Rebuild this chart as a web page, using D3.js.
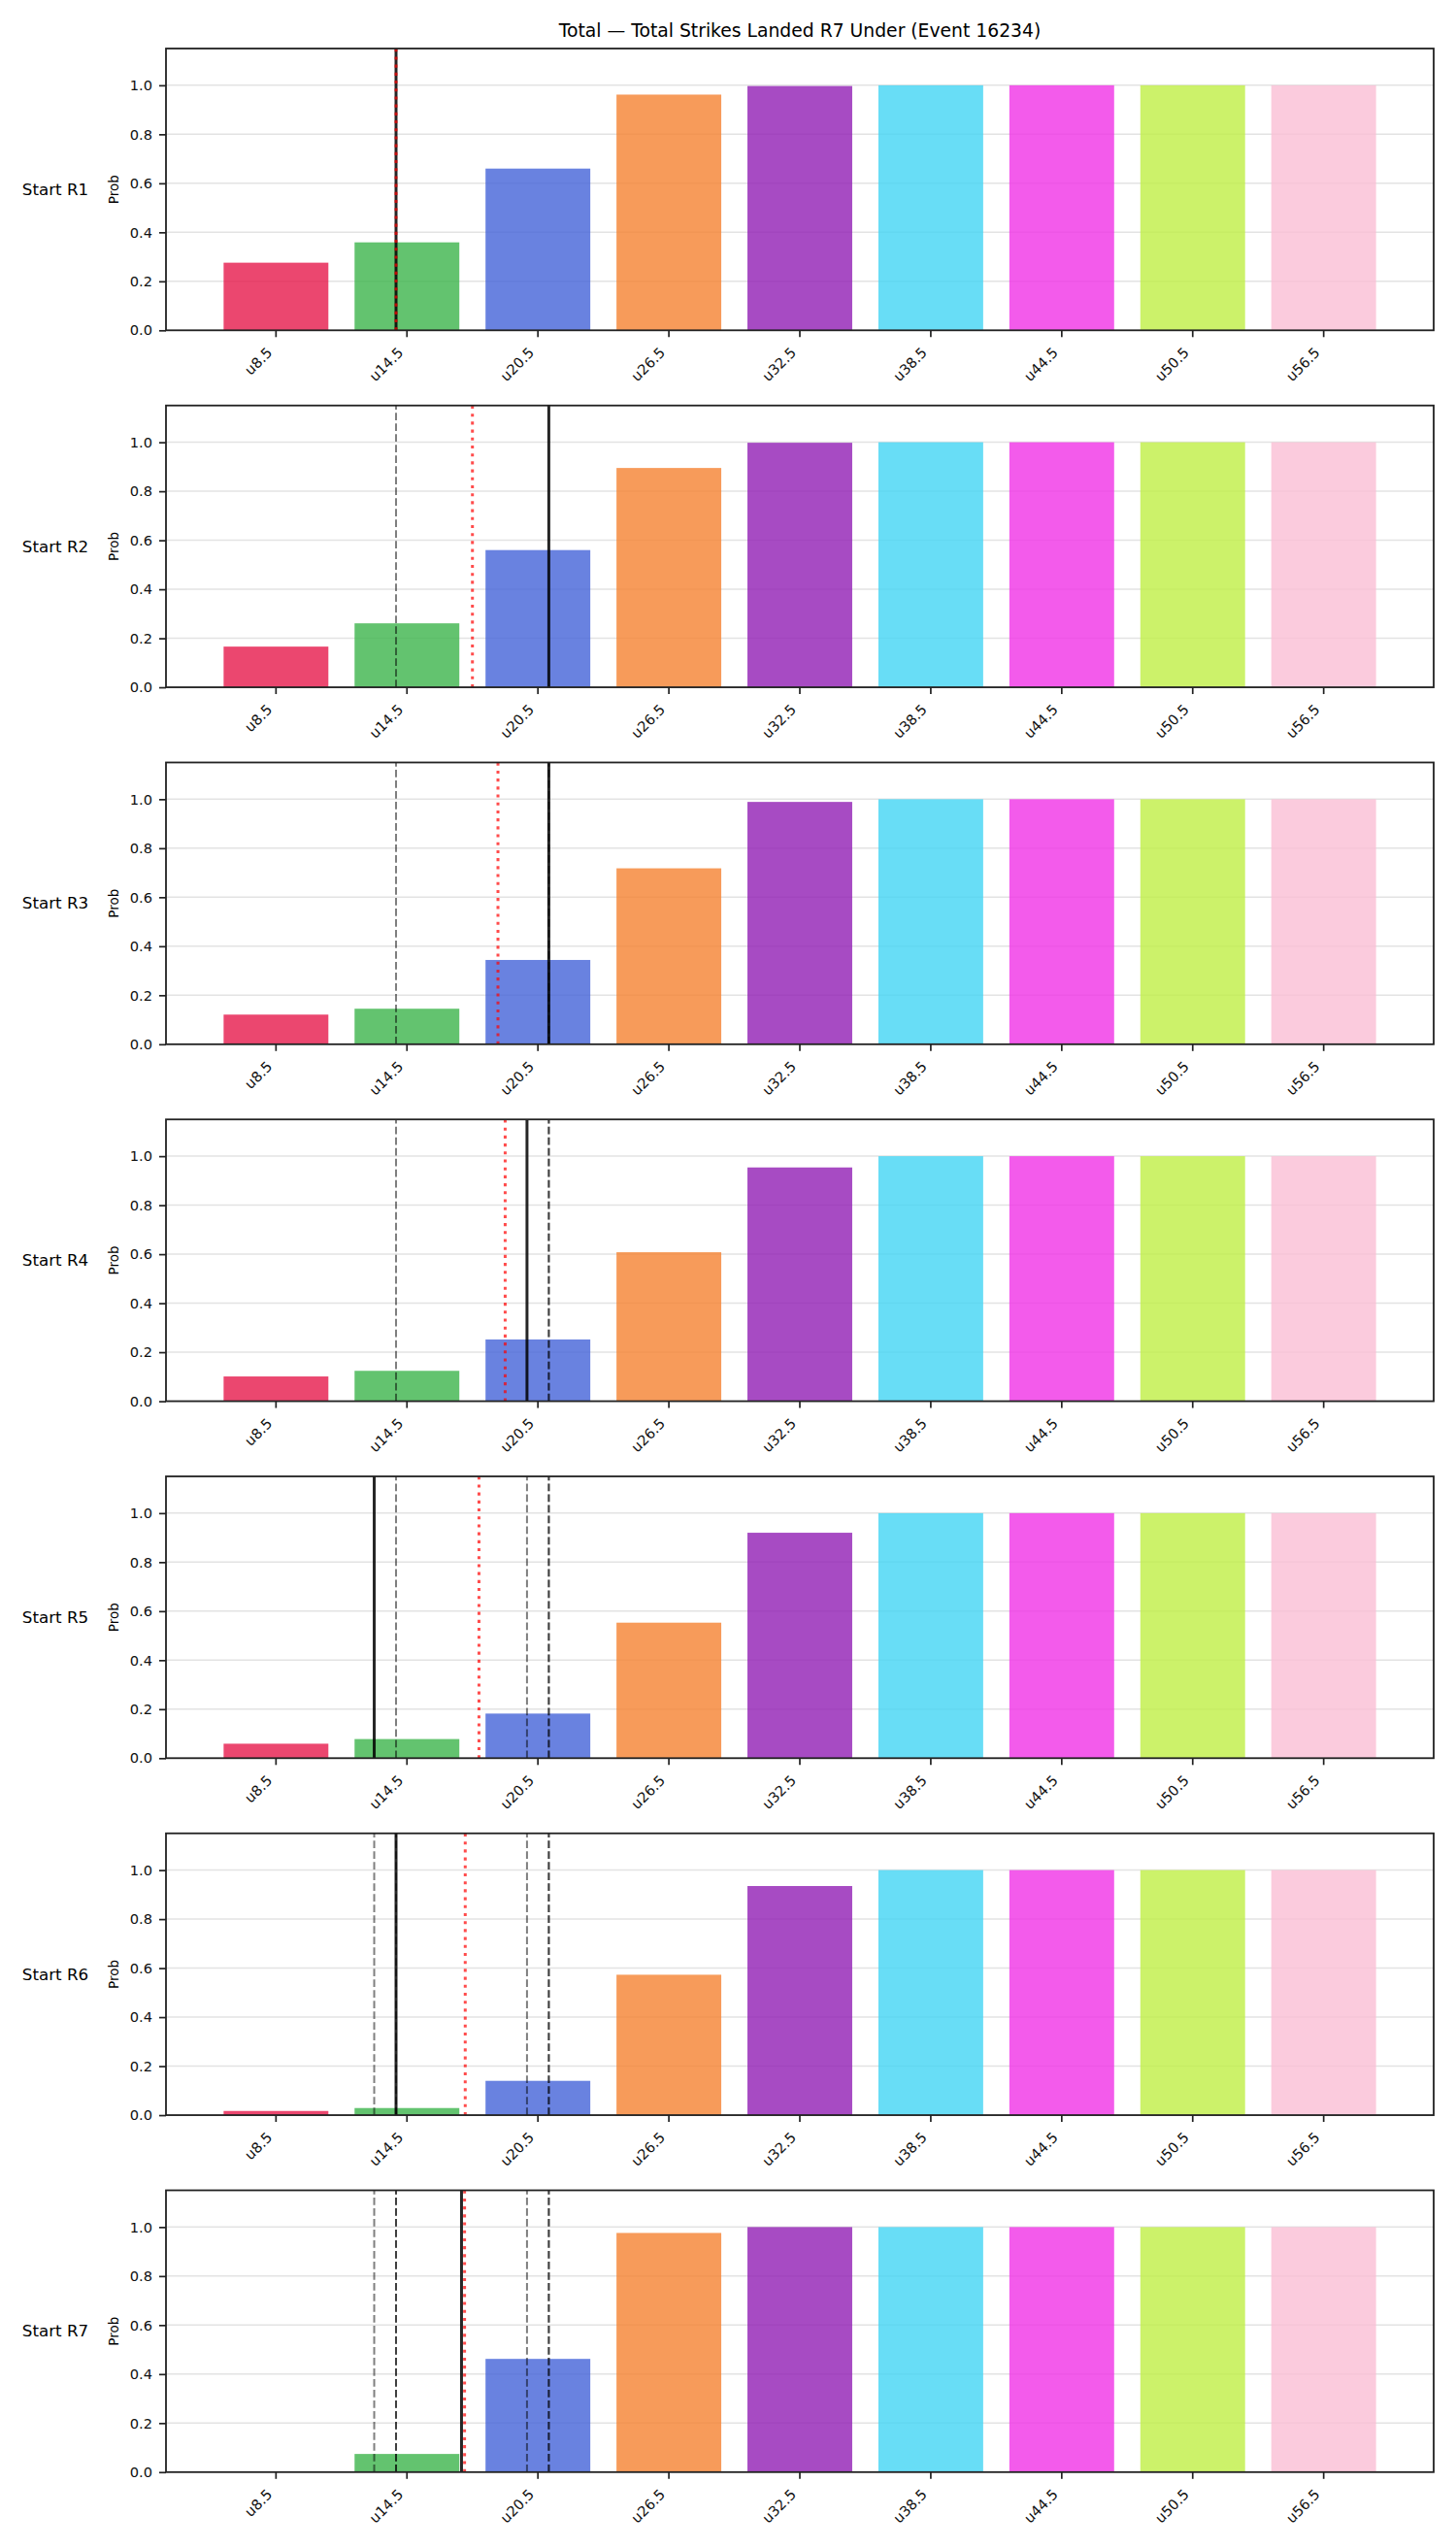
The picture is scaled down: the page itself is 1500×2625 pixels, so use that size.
<!DOCTYPE html>
<html>
<head>
<meta charset="utf-8">
<script src="https://cdn.jsdelivr.net/npm/d3@7"></script>
<style>
  html, body { margin: 0; padding: 0; background: #ffffff; }
  svg { display: block; font-family: "DejaVu Sans", sans-serif; }
</style>
</head>
<body>
<svg id="chart" width="1500" height="2625"></svg>
<script>
// ---------------- data ----------------
const title = "Total \u2014 Total Strikes Landed R7 Under (Event 16234)";
const categories = ["u8.5", "u14.5", "u20.5", "u26.5", "u32.5", "u38.5", "u44.5", "u50.5", "u56.5"];
const thresholds = [8.5, 14.5, 20.5, 26.5, 32.5, 38.5, 44.5, 50.5, 56.5];
const roundLabels = ["Start R1", "Start R2", "Start R3", "Start R4", "Start R5", "Start R6", "Start R7"];

const probR1 = [0.276, 0.359, 0.660, 0.962, 0.997, 1.0, 1.0, 1.0, 1.0];
const probR2 = [0.166, 0.261, 0.560, 0.895, 0.998, 1.0, 1.0, 1.0, 1.0];
const probR3 = [0.121, 0.145, 0.344, 0.718, 0.989, 1.0, 1.0, 1.0, 1.0];
const probR4 = [0.101, 0.124, 0.252, 0.608, 0.954, 1.0, 1.0, 1.0, 1.0];
const probR5 = [0.059, 0.078, 0.182, 0.553, 0.920, 1.0, 1.0, 1.0, 1.0];
const probR6 = [0.017, 0.029, 0.140, 0.573, 0.935, 1.0, 1.0, 1.0, 1.0];
const probR7 = [0.003, 0.074, 0.462, 0.976, 1.0, 1.0, 1.0, 1.0, 1.0];
const probs = [probR1, probR2, probR3, probR4, probR5, probR6, probR7];

// strikes landed per round (solid line = current round, dashed = earlier rounds)
const roundStrikes = [14, 21, 21, 20, 13, 14, 17];
// running average shown as red dotted line
const runningAvg = [14, 17.5, 18.67, 19, 17.8, 17.17, 17.14];

const barColors = ["#e6194b", "#3cb44b", "#4363d8", "#f58231", "#911eb4", "#42d4f4", "#f032e6", "#bfef45", "#fabed4"];
const yTicks = [0, 0.2, 0.4, 0.6, 0.8, 1.0];

// ---------------- layout ----------------
const left = 171, right = 1477;
const top0 = 50, panelStep = 367.75, panelH = 290.3;

const svg = d3.select("#chart");

svg.append("text")
  .attr("x", (left + right) / 2)
  .attr("y", 37.5)
  .attr("text-anchor", "middle")
  .attr("font-size", "18.75px")
  .attr("fill", "#000")
  .text(title);

const x = d3.scaleBand()
  .domain(categories)
  .range([left, right])
  .paddingInner(0.2)
  .paddingOuter(0.44);

// linear strike scale matching the band centers
const xs = d3.scaleLinear()
  .domain([thresholds[0], thresholds[thresholds.length - 1]])
  .range([x(categories[0]) + x.bandwidth() / 2, x(categories[categories.length - 1]) + x.bandwidth() / 2]);

probs.forEach((vals, i) => {
  const top = top0 + i * panelStep;
  const bottom = top + panelH;
  const y = d3.scaleLinear().domain([0, 1.15]).range([bottom, top]);
  const g = svg.append("g");

  // grid
  g.selectAll(".grid").data(yTicks).enter().append("line")
    .attr("x1", left).attr("x2", right)
    .attr("y1", d => y(d)).attr("y2", d => y(d))
    .attr("stroke", "#e3e3e3").attr("stroke-width", 1.5);

  // bars
  g.selectAll(".bar").data(vals).enter().append("rect")
    .attr("x", (d, j) => x(categories[j]))
    .attr("width", x.bandwidth())
    .attr("y", d => y(d))
    .attr("height", d => bottom - y(d))
    .attr("fill", (d, j) => barColors[j])
    .attr("fill-opacity", 0.8);

  // earlier rounds: dashed
  roundStrikes.slice(0, i).forEach(v => {
    g.append("line")
      .attr("x1", xs(v)).attr("x2", xs(v))
      .attr("y1", bottom).attr("y2", top)
      .attr("stroke", "#000").attr("stroke-opacity", 0.5)
      .attr("stroke-width", 2)
      .attr("stroke-dasharray", "7.7,3.3");
  });
  // current round: solid
  g.append("line")
    .attr("x1", xs(roundStrikes[i])).attr("x2", xs(roundStrikes[i]))
    .attr("y1", bottom).attr("y2", top)
    .attr("stroke", "#000").attr("stroke-opacity", 0.85)
    .attr("stroke-width", 3);
  // running average: red dotted
  g.append("line")
    .attr("x1", xs(runningAvg[i])).attr("x2", xs(runningAvg[i]))
    .attr("y1", bottom).attr("y2", top)
    .attr("stroke", "red").attr("stroke-opacity", 0.7)
    .attr("stroke-width", 3)
    .attr("stroke-dasharray", "3.1,5.1");

  // axes
  const yAxis = d3.axisLeft(y).tickValues(yTicks).tickFormat(d3.format(".1f")).tickSize(7).tickPadding(7);
  const ya = g.append("g").attr("transform", `translate(${left},0)`).call(yAxis);
  const xAxis = d3.axisBottom(x).tickSize(7).tickPadding(7);
  const xa = g.append("g").attr("transform", `translate(0,${bottom})`).call(xAxis);

  [ya, xa].forEach(a => {
    a.select(".domain").remove();
    a.selectAll(".tick line").attr("stroke", "#222").attr("stroke-width", 1.7);
    a.selectAll(".tick text").attr("font-size", "14.6px").attr("fill", "#111").attr("font-family", "DejaVu Sans");
  });
  xa.selectAll(".tick text")
    .attr("text-anchor", "end")
    .attr("dy", null)
    .attr("y", 0)
    .attr("transform", "translate(-3,24) rotate(-45)");

  // frame
  g.append("rect")
    .attr("x", left).attr("y", top)
    .attr("width", right - left).attr("height", panelH)
    .attr("fill", "none").attr("stroke", "#222").attr("stroke-width", 1.8);

  // labels
  g.append("text")
    .attr("x", 122).attr("y", (top + bottom) / 2)
    .attr("transform", `rotate(-90,122,${(top + bottom) / 2})`)
    .attr("text-anchor", "middle")
    .attr("font-size", "13.5px")
    .attr("fill", "#000")
    .text("Prob");
  g.append("text")
    .attr("x", 57).attr("y", (top + bottom) / 2)
    .attr("dy", "0.35em")
    .attr("text-anchor", "middle")
    .attr("font-size", "16.7px")
    .attr("fill", "#000")
    .text(roundLabels[i]);
});
</script>
</body>
</html>
